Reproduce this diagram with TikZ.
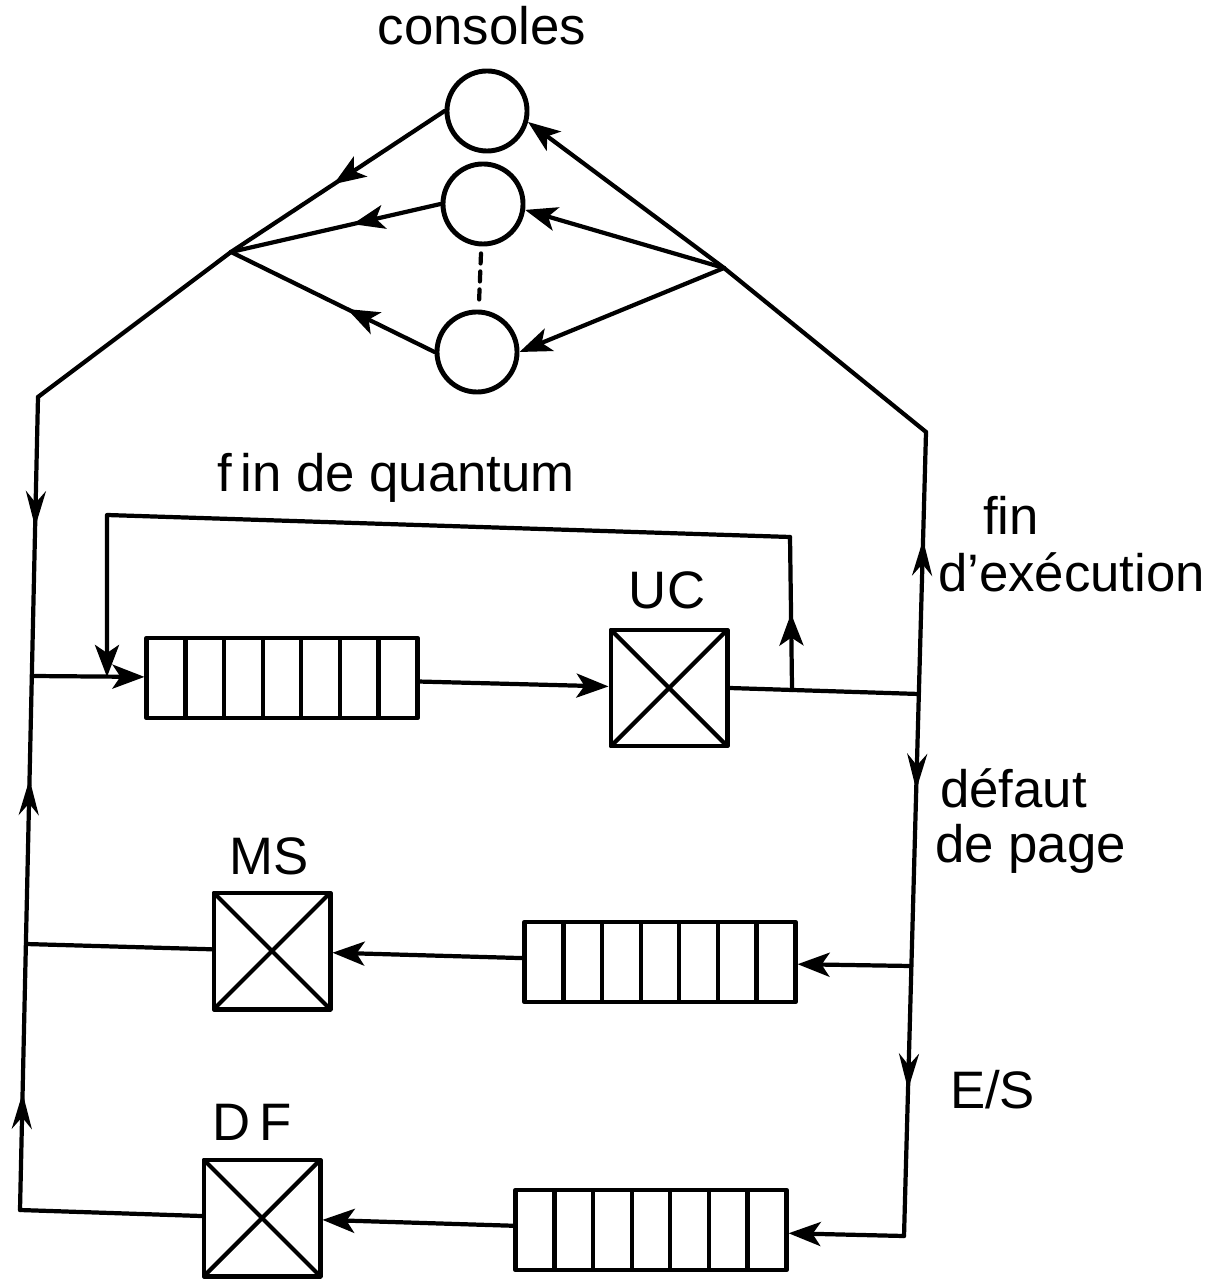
\documentclass[tikz,border=0pt]{standalone}
\usepackage{fontspec}
\setmainfont{Liberation Sans}
\usepackage{tikz}
\usetikzlibrary{arrows.meta,calc,decorations.markings}

\tikzset{
  console/.style={draw,circle,line width=1.4pt,minimum size=0.8cm,inner sep=0pt},
  serveur/.style={draw,rectangle,line width=1.4pt,minimum size=1.16cm,inner sep=0pt,
    path picture={\draw[line width=1.2pt] (path picture bounding box.north west) -- (path picture bounding box.south east)
      (path picture bounding box.south west) -- (path picture bounding box.north east);}},
  fileatt/.style={draw,rectangle,line width=1.4pt,minimum width=2.7cm,minimum height=0.8cm,inner sep=0pt,
    path picture={\foreach \k in {1,...,6}
      \draw[line width=1.2pt] ($(path picture bounding box.north west)!\k/7!(path picture bounding box.north east)$)
        -- ($(path picture bounding box.south west)!\k/7!(path picture bounding box.south east)$);}},
  milieu/.style={postaction={decorate},decoration={markings,
    mark=at position #1 with {\arrow{Stealth[length=3.2mm,width=2.4mm,inset=0.8mm]}}}},
  etiq/.style={inner sep=0pt}
}

\begin{document}
\begin{tikzpicture}[x=0.01cm,y=-0.01cm,line width=1.2pt,line cap=round,line join=round,
  >={Stealth[length=3.2mm,width=2.4mm,inset=0.8mm]},font=\fontsize{15}{18}\selectfont]
\useasboundingbox (0,0) rectangle (1226,1280);

\node[console] (c1) at (487,111) {};
\node[console] (c2) at (483,204) {};
\node[console] (c3) at (477,352) {};
\node[etiq,anchor=base] (lcons) at (482,45) {consoles};

\coordinate (jg) at (231,252);
\coordinate (jd) at (724,268);
\coordinate (hg) at (38,397);
\coordinate (bg) at (20,1210);
\coordinate (hd) at (926,432);
\coordinate (bd) at (904,1236);

\draw[milieu=0.52] (c1.west) -- (jg);
\draw[milieu=0.42] (c2.west) -- (jg);
\draw[milieu=0.43] (c3.west) -- (jg);
\draw[->] (jd) -- (c1.345);
\draw[->] (jd) -- (c2.352);
\draw[->] (jd) -- (c3.east);
\draw[dash pattern=on 0.1cm off 0.08cm,shorten <=0.07cm,shorten >=0.07cm] (c2) -- (c3);
\draw (jg) -- (hg);
\draw (jd) -- (hd);

% les deux verticales
\draw[postaction={decorate},decoration={markings,
  mark=at position 0.16 with {\arrow{Stealth[open,length=3.6mm,width=2mm]}},
  mark=at position 0.47 with {\arrowreversed{Stealth[open,length=3.6mm,width=2mm]}},
  mark=at position 0.856 with {\arrowreversed{Stealth[open,length=3.6mm,width=2mm]}}}]
  (hg) -- (bg);
\draw[postaction={decorate},decoration={markings,
  mark=at position 0.134 with {\arrowreversed{Stealth[open,length=3.6mm,width=2mm]}},
  mark=at position 0.445 with {\arrow{Stealth[open,length=3.6mm,width=2mm]}},
  mark=at position 0.818 with {\arrow{Stealth[open,length=3.6mm,width=2mm]}}}]
  (hd) -- (bd);

% UC
\node[fileatt] (q1) at (282,678) {};
\node[serveur] (uc) at (669,688) {};
\node[etiq] (luc) at (667,590) {UC};
\coordinate (ug) at (32,676);
\coordinate (ud) at (919,694);
\draw[->] (ug) -- (q1);
\draw[->] (q1) -- (uc);
\draw (uc.east) -- (ud);
\coordinate (bu) at ($(uc.east)!0.33!(ud)$);
\coordinate (fq1) at (790,537);
\coordinate (fq2) at (107,515);
\coordinate (fq3) at (107,677);
\draw[milieu=0.5] (bu) -- (fq1);
\draw[->] (fq1) -- (fq2) -- (fq3);
\node[etiq,anchor=base] (lquant) at (396,492) {f\,in de quantum};
\node[etiq,anchor=base west] (lfin) at (981,535) {fin};
\node[etiq,anchor=base west] (lexec) at (936,592) {d’exécution};

% MS
\node[fileatt] (q2) at (660,962) {};
\node[serveur] (ms) at (272,951) {};
\node[etiq] (lms) at (269,856) {MS};
\coordinate (md) at (911,966);
\coordinate (mg) at (26,944);
\draw[->] (md) -- (q2);
\draw[->] (q2) -- (ms);
\draw (ms) -- (mg);
\node[etiq,anchor=base west] (ldef) at (938,807) {défaut};
\node[etiq,anchor=base west] (lpage) at (933,862) {de page};

% DF
\node[fileatt] (q3) at (651,1230) {};
\node[serveur] (df) at (262,1218) {};
\node[etiq] (ldf) at (252,1122) {D\,F};
\draw[->] (bd) -- (q3);
\draw[->] (q3) -- (df);
\draw (df) -- (bg);
\node[etiq,anchor=base west] (les) at (948,1108) {E/S};
\end{tikzpicture}
\end{document}
